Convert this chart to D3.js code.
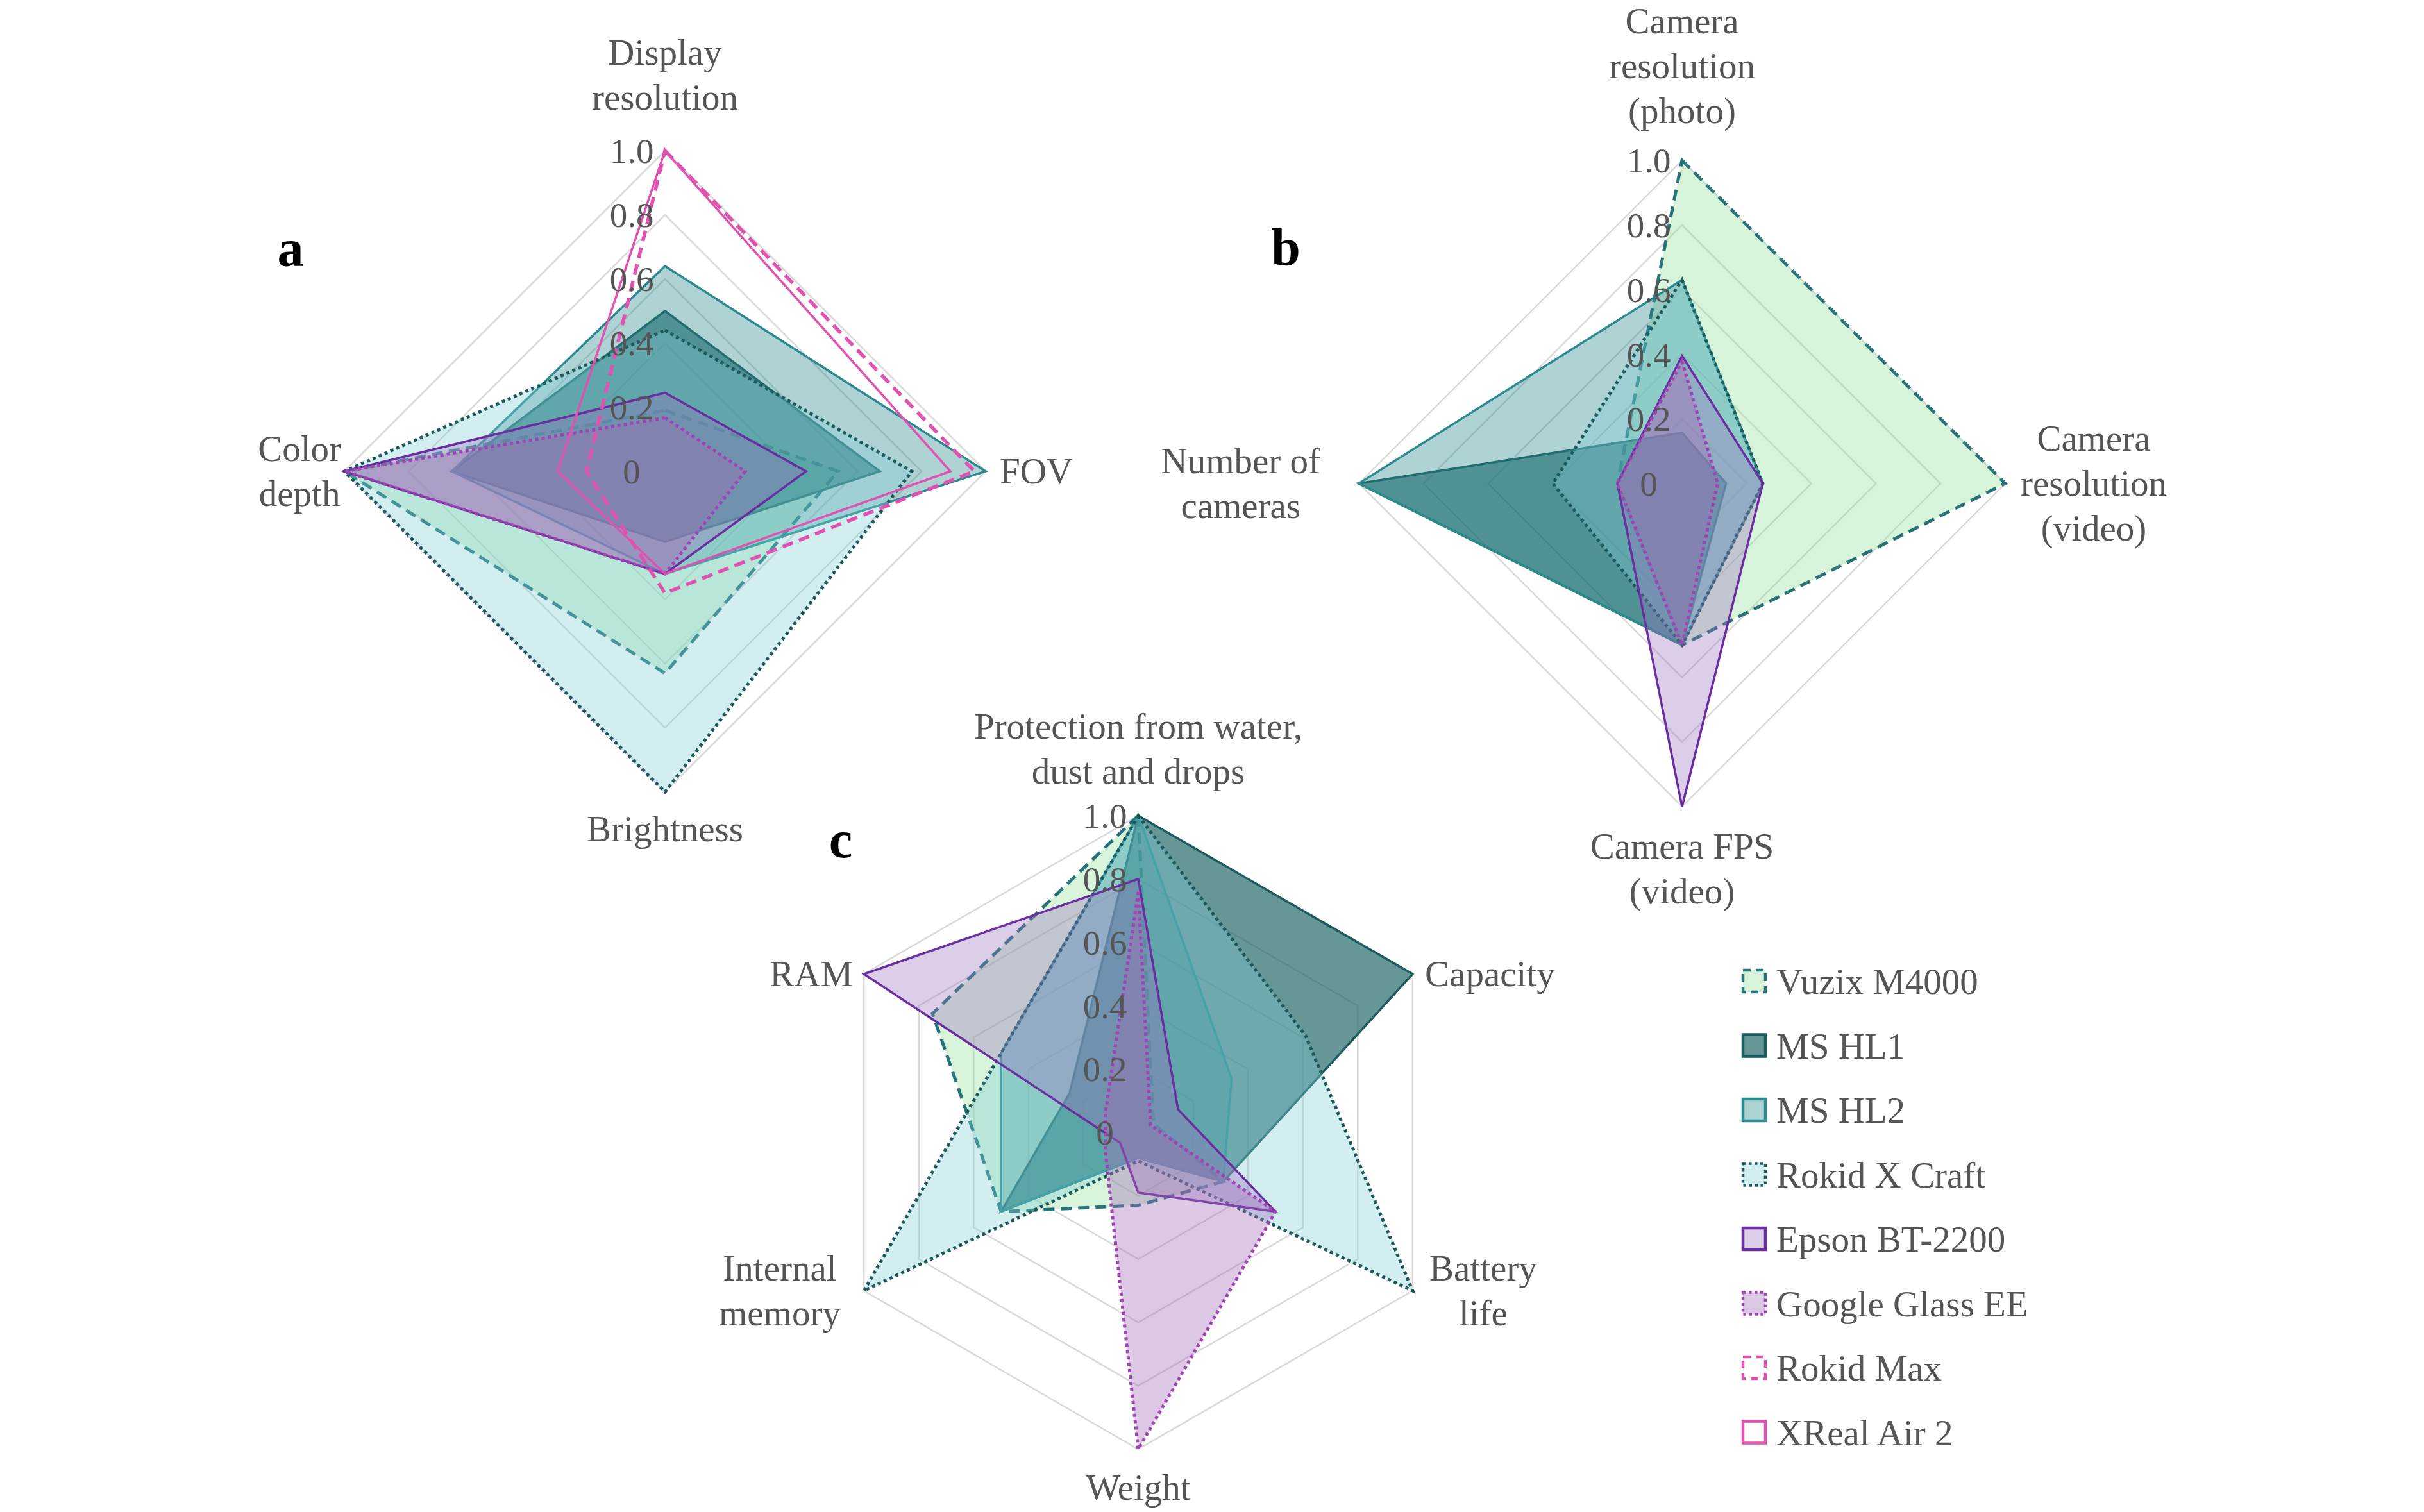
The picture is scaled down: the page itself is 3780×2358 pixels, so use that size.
<!DOCTYPE html>
<html>
<head>
<meta charset="utf-8">
<script src="https://cdn.jsdelivr.net/npm/d3@7"></script>
<style>
  body { margin: 0; background: #fff; }
</style>
</head>
<body>
<svg id="chart"></svg>
<script>
const devices = ["Vuzix M4000", "MS HL1", "MS HL2", "Rokid X Craft", "Epson BT-2200", "Google Glass EE", "Rokid Max", "XReal Air 2"];

const axesA = [["Display", "resolution"], ["FOV"], ["Brightness"], ["Color", "depth"]];
const axesB = [["Camera", "resolution", "(photo)"], ["Camera", "resolution", "(video)"], ["Camera FPS", "(video)"], ["Number of", "cameras"]];
const axesC = [["Protection from water,", "dust and drops"], ["Capacity"], ["Battery", "life"], ["Weight"], ["Internal", "memory"], ["RAM"]];

const ticks = [0, 0.2, 0.4, 0.6, 0.8, 1.0];
const tickLabels = ["0", "0.2", "0.4", "0.6", "0.8", "1.0"];

// display: resolution, FOV, brightness, color depth
const valuesA = [
  [0.19, 0.54, 0.63, 1.0],
  [0.50, 0.67, 0.22, 0.665],
  [0.64, 1.0, 0.32, 0.665],
  [0.44, 0.77, 1.0, 1.0],
  [0.245, 0.44, 0.32, 1.0],
  [0.167, 0.25, 0.32, 1.0],
  [1.0, 0.965, 0.38, 0.245],
  [1.0, 0.89, 0.32, 0.335]
];

// camera: photo res, video res, fps, number of cameras
const valuesB = [
  [1.0, 1.0, 0.5, 0.2],
  [0.157, 0.136, 0.5, 1.0],
  [0.63, 0.25, 0.5, 1.0],
  [0.63, 0.25, 0.5, 0.40],
  [0.395, 0.25, 1.0, 0.2],
  [0.378, 0.11, 0.5, 0.2],
  null,
  null
];

// protection, capacity, battery life, weight, internal memory, RAM
const valuesC = [
  [1.0, 0.055, 0.31, 0.23, 0.5, 0.75],
  [1.0, 1.0, 0.31, 0.08, 0.5, 0.25],
  [1.0, 0.34, 0.31, 0.08, 0.5, 0.5],
  [1.0, 0.61, 1.0, 0.09, 1.0, 0.5],
  [0.8, 0.145, 0.5, 0.19, 0.066, 1.0],
  [0.76, 0.045, 0.5, 1.0, 0.12, 0.12],
  null,
  null
];

// line + fill look of each device
const styles = [
  { stroke: "#277379", fill: "#9be3a6", fo: 0.4, dash: "17,10", sw: 5 },
  { stroke: "#1d5c5e", fill: "#1f6466", fo: 0.68, dash: null, sw: 3.5 },
  { stroke: "#2a8a90", fill: "#2d8a91", fo: 0.38, dash: null, sw: 3.5 },
  { stroke: "#1d5a5c", fill: "#7fcfd6", fo: 0.35, dash: "5,5", sw: 5 },
  { stroke: "#6a2ea0", fill: "#9b6fc0", fo: 0.35, dash: null, sw: 3.5 },
  { stroke: "#a043b3", fill: "#a46cb8", fo: 0.38, dash: "5,5", sw: 5 },
  { stroke: "#e052b0", fill: "none", fo: 0, dash: "17,10", sw: 5.5 },
  { stroke: "#e052b0", fill: "none", fo: 0, dash: null, sw: 3.5 }
];

const W = 3780, H = 2358;
const serif = "'Liberation Serif', Tinos, 'Times New Roman', Times, 'DejaVu Serif', serif";
const fontSize = 57, lineH = 70, textColor = "#555555";

// gaps: label distance from each axis end, clockwise from top
const panels = [
  { letter: "a", cx: 1037, cy: 735, r: 500, axes: axesA, values: valuesA, gaps: [64, 22, 77, 5], lx: 453, ly: 415 },
  { letter: "b", cx: 2623, cy: 754, r: 504, axes: axesB, values: valuesB, gaps: [58, 24, 81, 60], lx: 2005, ly: 413 },
  { letter: "c", cx: 1775, cy: 1766, r: 494, axes: axesC, values: valuesC, gaps: [50, 19, 26, 79, 36, 17], lx: 1311, ly: 1337 }
];

const svg = d3.select("#chart").attr("width", W).attr("height", H)
  .attr("font-family", serif);
svg.append("rect").attr("width", W).attr("height", H).attr("fill", "#fff");

panels.forEach(p => {
  const n = p.axes.length;
  const rScale = d3.scaleLinear().domain([0, 1]).range([0, p.r]);
  const angle = d3.scaleLinear().domain([0, n]).range([0, 2 * Math.PI]);
  const radial = d3.lineRadial()
    .angle((d, i) => angle(i))
    .radius(d => rScale(d))
    .curve(d3.curveLinearClosed);

  const g = svg.append("g").attr("transform", `translate(${p.cx},${p.cy})`);

  // grid polygons
  g.selectAll("path.grid")
    .data(ticks.slice(1))
    .join("path")
    .attr("class", "grid")
    .attr("d", t => radial(d3.range(n).map(() => t)))
    .attr("fill", "none")
    .attr("stroke", "#d9d9d9")
    .attr("stroke-width", 2.5);

  // device polygons, legend order
  const rows = p.values.map((v, i) => ({ v, s: styles[i] })).filter(d => d.v);
  g.selectAll("path.dev")
    .data(rows)
    .join("path")
    .attr("class", "dev")
    .attr("d", d => radial(d.v))
    .attr("fill", d => d.s.fill)
    .attr("fill-opacity", d => d.s.fo)
    .attr("stroke", d => d.s.stroke)
    .attr("stroke-width", d => d.s.sw)
    .attr("stroke-dasharray", d => d.s.dash)
    .attr("stroke-linejoin", "miter");

  // tick labels beside the top axis
  g.selectAll("text.tick")
    .data(ticks)
    .join("text")
    .attr("class", "tick")
    .attr("x", -52)
    .attr("y", t => -rScale(t))
    .attr("dy", "0.35em")
    .attr("text-anchor", "middle")
    .attr("font-family", serif)
    .attr("font-size", 55)
    .attr("fill", textColor)
    .text((t, i) => tickLabels[i]);

  // axis labels
  p.axes.forEach((lines, i) => {
    const a = angle(i);
    const sx = Math.sin(a), sy = -Math.cos(a);
    const vx = sx * p.r, vy = sy * p.r;
    const gap = p.gaps[i];
    const lg = g.append("g");
    const t = lg.append("text")
      .attr("text-anchor", "middle")
      .attr("font-family", serif)
      .attr("font-size", fontSize)
      .attr("fill", textColor);
    let y0;
    if (Math.abs(sx) < 0.1 && sy < 0) y0 = vy - gap - (lines.length - 1) * lineH;
    else if (Math.abs(sx) < 0.1) y0 = vy + gap;
    else y0 = vy - (lines.length - 1) * lineH / 2 + 0.34 * fontSize;
    lines.forEach((ln, k) => {
      t.append("tspan").attr("x", 0).attr("y", y0 + k * lineH).text(ln);
    });
    let x = vx;
    if (Math.abs(sx) >= 0.1) {
      const w = t.node().getBBox().width;
      x = sx > 0 ? vx + gap + w / 2 : vx - gap - w / 2;
    }
    lg.attr("transform", `translate(${x},0)`);
  });

  svg.append("text")
    .attr("x", p.lx)
    .attr("y", p.ly)
    .attr("text-anchor", "middle")
    .attr("font-family", serif)
    .attr("font-size", 82)
    .attr("font-weight", "bold")
    .attr("fill", "#000")
    .text(p.letter);
});

// legend
const lgX = 2718, lgY = 1530, lgStep = 100.5;
const legend = svg.append("g");
const items = legend.selectAll("g")
  .data(devices)
  .join("g")
  .attr("transform", (d, i) => `translate(${lgX},${lgY + i * lgStep})`);
items.append("rect")
  .attr("x", 0).attr("y", -17)
  .attr("width", 35).attr("height", 34)
  .attr("fill", (d, i) => styles[i].fill === "none" ? "#fff" : styles[i].fill)
  .attr("fill-opacity", (d, i) => styles[i].fill === "none" ? 1 : styles[i].fo)
  .attr("stroke", (d, i) => styles[i].stroke)
  .attr("stroke-width", 4.5)
  .attr("stroke-dasharray", (d, i) => styles[i].dash ? (styles[i].dash === "5,5" ? "4.5,4.5" : "12,8") : null);
items.append("text")
  .attr("x", 52)
  .attr("y", 20)
  .attr("font-family", serif)
  .attr("font-size", fontSize)
  .attr("fill", textColor)
  .text(d => d);
</script>
</body>
</html>
